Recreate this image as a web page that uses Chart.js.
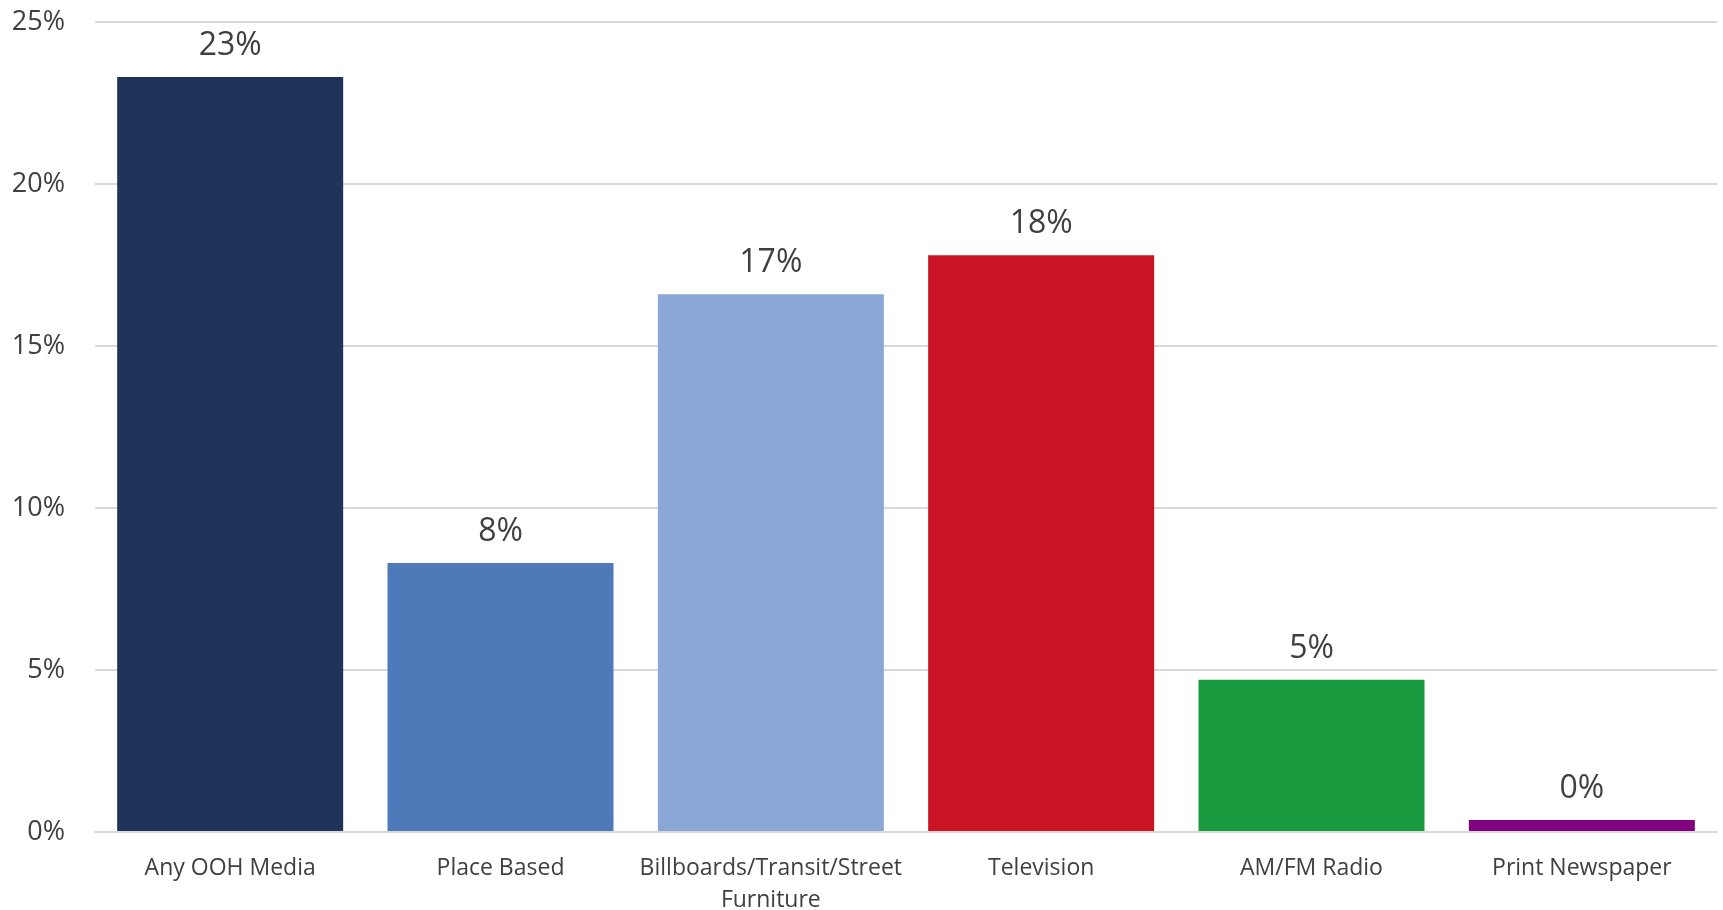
<!DOCTYPE html>
<html>
<head>
<meta charset="utf-8">
<script src="https://cdn.jsdelivr.net/npm/chart.js@4/dist/chart.umd.min.js"></script>
<style>
  html, body { margin: 0; padding: 0; background: #fff; }
  #wrap { width: 1723px; height: 910px; position: relative; }
</style>
</head>
<body>
<div id="wrap"><canvas id="mediaChart"></canvas></div>
<script>
var categories = [
  'Any OOH Media',
  'Place Based',
  ['Billboards/Transit/Street', 'Furniture'],
  'Television',
  'AM/FM Radio',
  'Print Newspaper'
];
var shares = [23.3, 8.3, 16.6, 17.8, 4.7, 0.37];
var barColors = ['#203359', '#4F7AB9', '#8AA7D8', '#CB1423', '#1A9A3E', '#800080'];
var yTicks = [0, 5, 10, 15, 20, 25];

var FONT = '"Open Sans", sans-serif';
var TEXT = '#404040';

// writes the rounded percentage above each bar
var valueLabels = {
  id: 'valueLabels',
  afterDatasetsDraw: function (chart) {
    var ctx = chart.ctx;
    var meta = chart.getDatasetMeta(0);
    ctx.save();
    ctx.font = '32px ' + FONT;
    ctx.fillStyle = TEXT;
    ctx.textAlign = 'center';
    ctx.textBaseline = 'alphabetic';
    meta.data.forEach(function (bar, i) {
      ctx.fillText(Math.round(shares[i]) + '%', bar.x, bar.y - 22);
    });
    ctx.restore();
  }
};

new Chart(document.getElementById('mediaChart'), {
  type: 'bar',
  data: {
    labels: categories,
    datasets: [{
      data: shares,
      backgroundColor: barColors,
      borderWidth: 0,
      categoryPercentage: 1,
      barPercentage: 0.836
    }]
  },
  options: {
    responsive: true,
    maintainAspectRatio: false,
    animation: false,
    layout: { padding: { top: 22, right: 6, left: 0, bottom: 0 } },
    plugins: {
      legend: { display: false },
      tooltip: { enabled: false }
    },
    scales: {
      x: {
        grid: { display: false, drawTicks: false },
        border: { display: true, color: '#D9D9D9', width: 2 },
        ticks: {
          color: TEXT,
          font: { family: FONT, size: 23, lineHeight: 1.4 },
          padding: 20,
          maxRotation: 0,
          autoSkip: false
        },
        afterFit: function (scale) { scale.height = 78; }
      },
      y: {
        min: 0,
        max: 25,
        afterBuildTicks: function (scale) {
          scale.ticks = yTicks.map(function (v) { return { value: v }; });
        },
        grid: { color: '#D9D9D9', lineWidth: 2, drawTicks: false },
        border: { display: false },
        ticks: {
          color: TEXT,
          font: { family: FONT, size: 27 },
          padding: 30,
          callback: function (v) { return v + '%'; }
        },
        afterFit: function (scale) {
          // tick padding would otherwise push the plot top down
          scale.width = 95;
          scale.paddingTop = 0;
          scale.paddingBottom = 0;
        }
      }
    }
  },
  plugins: [valueLabels]
});
</script>
</body>
</html>
